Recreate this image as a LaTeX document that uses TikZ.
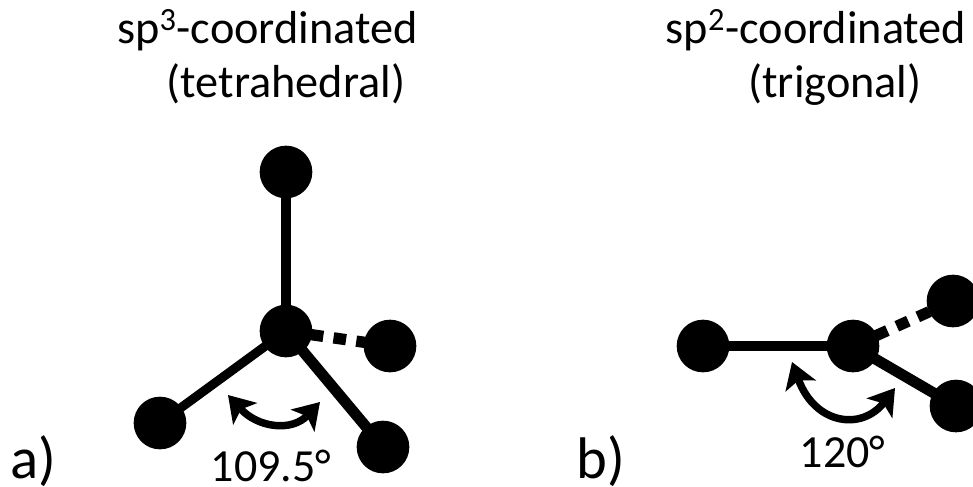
\documentclass[tikz,border=0pt]{standalone}
\usepackage{fontspec}
\setmainfont{Carlito}
\usetikzlibrary{arrows.meta}
\tikzset{
  atom/.style={circle,fill=black,draw=none,minimum size=39.5pt,inner sep=0pt},
  bond/.style={line width=6.8pt,draw=black},
  thickbond/.style={line width=8.2pt,draw=black},
  backbond/.style={line width=8.5pt,draw=black,dash pattern=on 9.5pt off 7.75pt,dash phase=15.75pt},
  angle/.style={line width=5.6pt,draw=black,{Stealth[length=19pt,width=24pt,inset=4.5pt]}-{Stealth[length=19pt,width=24pt,inset=4.5pt]}},
  label/.style={inner sep=0pt,anchor=base,font=\fontsize{34.7pt}{40pt}\selectfont,text=black},
  value/.style={inner sep=0pt,anchor=base,font=\fontsize{34.5pt}{40pt}\selectfont,text=black},
  tag/.style={inner sep=0pt,anchor=base,font=\fontsize{44pt}{50pt}\selectfont,text=black}
}
\begin{document}
\begin{tikzpicture}[x=0.75pt,y=-0.75pt]
\useasboundingbox (0,0) rectangle (973,486);
\clip (0,0) rectangle (973,486);
\fill[white] (0,0) rectangle (973,486);
% a
\node[atom] (at) at (286,172) {};
\node[atom] (ac) at (286,331) {};
\node[atom] (ar) at (390,346) {};
\node[atom] (al) at (160,423) {};
\node[atom] (ab) at (383,447) {};
\draw[bond] (ac.center) -- (at.center);
\draw[bond] (ac.center) -- (al.center);
\draw[thickbond] (ac.center) -- (ab.center);
\draw[backbond] (ac.center) -- (ar.center);
\coordinate (a1) at (228,395);
\coordinate (a2) at (320,402);
\draw[angle] (a1) .. controls (258,428) and (292,432) .. (a2);
% b
\node[atom] (bl) at (703,346) {};
\node[atom] (bc) at (853,346) {};
\node[atom] (bu) at (953,301) {};
\node[atom] (bd) at (956,406) {};
\draw[bond] (bc.center) -- (bl.center);
\draw[thickbond] (bc.center) -- (bd.center);
\draw[backbond] (bc.center) -- (bu.center);
\coordinate (b1) at (792,362);
\coordinate (b2) at (895,388);
\draw[angle] (b1) .. controls (815,425) and (862,431) .. (b2);
% text
\node[label] (t1) at (267.5,43) {sp\textsuperscript{3}-coordinated};
\node[label] (t1b) at (286,97) {(tetrahedral)};
\node[label] (t2) at (816,43) {sp\textsuperscript{2}-coordinated};
\node[label] (t2b) at (835,97) {(trigonal)};
\node[value] (v1) at (271,481) {109.5°};
\node[value] (v2) at (842.5,467) {120°};
\node[tag] (la) at (33,478) {a)};
\node[tag] (lb) at (601,478) {b)};
\end{tikzpicture}
\end{document}
